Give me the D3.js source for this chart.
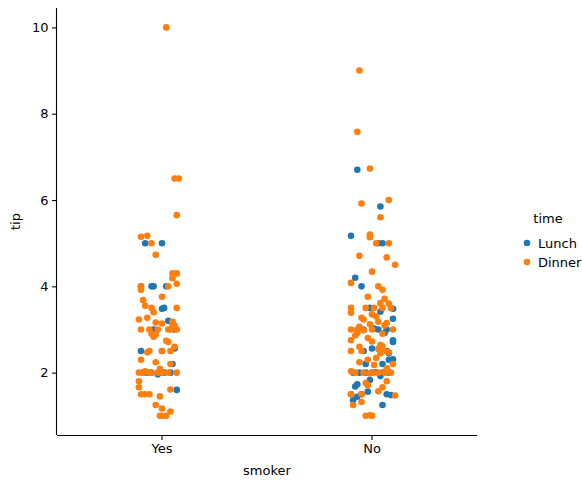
<!DOCTYPE html>
<html><head><meta charset="utf-8">
<script src="https://cdn.jsdelivr.net/npm/d3@7"></script>
<style>body{margin:0;background:#fff}text{font-family:"DejaVu Sans",sans-serif}</style>
</head><body><svg id="c" width="582" height="489"></svg>
<script>
const categories = ["Yes","No"];
const hues = ["Lunch","Dinner"];
const colors = ["#1f77b4","#ff7f0e"];
const yTicks = [2,4,6,8,10];
// [tip, jitter]
const yesLunch = [[5.0,-0.08],[5.0,0.0],[4.0,-0.1],[4.0,-0.04],[4.0,0.02],[3.5,0.01],[3.2,0.03],[3.0,0.06],[2.5,-0.1],[2.5,0.0],[2.56,0.06],[2.2,0.05],[2.0,-0.07],[2.0,-0.05],[2.0,0.04],[2.0,0.01],[1.96,-0.02],[1.6,0.07],[2.0,-0.09],[3.0,-0.04],[2.0,0.0],[4.0,-0.05],[3.48,0.0]];
const yesDinner = [[10,0.02],[6.5,0.06],[6.5,0.08],[5.65,0.07],[5.15,-0.1],[5.17,-0.07],[5.0,-0.05],[4.73,-0.03],[4.3,0.05],[4.3,0.07],[4.06,0.07],[4.0,-0.1],[4.0,0.03],[3.76,0.0],[3.68,-0.09],[3.55,-0.08],[3.5,0.07],[3.4,-0.04],[3.27,-0.07],[3.23,-0.11],[3.16,-0.03],[3.11,0.05],[3.09,0.06],[3.0,-0.1],[3.0,-0.06],[3.0,-0.02],[3.0,0.03],[3.0,0.07],[2.9,-0.05],[2.88,-0.03],[2.6,0.06],[2.5,-0.06],[2.5,0.0],[2.24,-0.03],[2.2,0.04],[2.09,-0.01],[2.03,-0.08],[2.0,-0.11],[2.0,-0.09],[2.0,-0.05],[2.0,-0.02],[2.0,0.0],[2.0,0.03],[2.0,0.07],[1.8,-0.11],[1.66,-0.11],[1.5,-0.1],[1.5,-0.08],[1.5,-0.06],[1.45,-0.01],[1.17,0.0],[1.1,0.04],[1.0,-0.01],[1.0,0.0],[1.0,0.02],[1.61,0.04],[2.3,-0.1],[2.5,0.04],[3.0,0.04],[3.5,-0.05],[4.19,0.05],[3.14,0.0],[2.0,-0.06],[1.25,-0.03],[3.18,0.05],[2.74,0.02],[2.83,-0.04],[3.92,-0.1],[2.71,0.03],[2.47,-0.07]];
const noLunch = [[6.7,-0.07],[5.85,0.04],[5.17,-0.1],[5.0,0.03],[5.0,0.05],[4.2,-0.08],[4.0,-0.05],[3.5,-0.01],[3.48,0.1],[3.41,0.04],[3.25,0.1],[3.0,-0.04],[3.0,0.03],[3.0,0.07],[2.92,0.06],[2.75,0.1],[2.71,0.1],[2.56,0.0],[2.5,0.07],[2.3,0.08],[2.31,0.1],[2.2,-0.03],[2.0,-0.09],[2.0,-0.06],[2.0,-0.03],[2.0,0.0],[2.0,0.05],[2.0,0.08],[1.92,0.04],[1.83,-0.01],[1.73,-0.07],[1.68,-0.08],[1.5,-0.1],[1.5,-0.05],[1.5,0.07],[1.48,0.09],[1.44,-0.07],[1.36,-0.09],[1.25,0.05],[2.2,0.05],[2.5,-0.04],[1.56,-0.02],[2.01,0.02],[2.45,0.08],[3.02,0.01]];
const noDinner = [[9.0,-0.06],[7.58,-0.07],[6.73,-0.01],[6.0,0.08],[5.92,-0.05],[5.6,0.04],[5.2,-0.01],[5.14,-0.01],[5.0,0.02],[5.0,0.08],[4.71,-0.06],[4.5,0.11],[4.34,0.0],[4.08,-0.1],[3.92,0.05],[3.76,-0.02],[3.71,0.06],[3.6,0.08],[3.61,0.04],[3.5,-0.1],[3.5,-0.03],[3.5,0.01],[3.5,0.05],[3.39,-0.1],[3.35,0.0],[3.27,-0.05],[3.23,-0.04],[3.18,0.03],[3.12,-0.01],[3.09,0.06],[3.0,-0.1],[3.0,-0.07],[3.0,0.0],[3.0,0.1],[2.98,-0.04],[2.9,0.05],[2.8,-0.02],[2.72,0.0],[2.64,0.04],[2.6,-0.06],[2.55,0.03],[2.5,-0.1],[2.5,-0.05],[2.5,0.06],[2.45,0.04],[2.34,0.02],[2.3,-0.02],[2.24,-0.06],[2.18,0.01],[2.1,0.07],[2.03,-0.1],[2.0,-0.08],[2.0,-0.04],[2.0,0.0],[2.0,0.03],[2.0,0.06],[2.0,0.09],[1.98,-0.01],[1.76,-0.03],[1.71,-0.02],[1.66,0.05],[1.57,0.03],[1.5,-0.05],[1.5,-0.1],[1.47,0.11],[1.32,-0.05],[1.25,-0.09],[1.01,-0.01],[1.0,-0.03],[1.0,0.0],[3.3,0.02],[3.06,-0.06],[2.47,0.08],[4.0,0.03],[3.5,0.09],[2.61,0.05],[2.86,-0.08],[2.2,0.1],[1.8,0.07],[2.75,-0.1],[3.15,0.07],[4.67,0.07],[2.92,-0.07]];
const series = [
  {cat:"Yes",hue:0,pts:yesLunch},{cat:"No",hue:0,pts:noLunch},
  {cat:"Yes",hue:1,pts:yesDinner},{cat:"No",hue:1,pts:noDinner}];

const svg = d3.select("#c");
const L=57,R=477,T=8,B=435;
const x = d3.scaleBand().domain(categories).range([L,R]);
const y = d3.scaleLinear().domain([0.555,10.45]).range([B,T]);
const bw = x.bandwidth();

const gx = svg.append("g").attr("transform",`translate(0,${B})`).call(d3.axisBottom(x).tickSize(4.9).tickPadding(3.5));
const gy = svg.append("g").attr("transform",`translate(${L},0)`).call(d3.axisLeft(y).tickValues(yTicks).tickSize(4.9).tickPadding(3.5));
[gx,gy].forEach(g=>{g.selectAll("text").attr("font-size",13).attr("fill","#000").attr("font-family","DejaVu Sans");g.selectAll("line,path").attr("stroke","#000").attr("stroke-width",1.1);});
gx.select(".domain").attr("d",`M${L},0.5H${R}`);
gy.select(".domain").attr("d",`M-0.5,${B}V${T}`);

series.forEach(s=>{
  svg.append("g").selectAll("circle").data(s.pts).join("circle")
    .attr("cx",d=>x(s.cat)+bw/2+d[1]*bw)
    .attr("cy",d=>y(d[0]))
    .attr("r",3.3).attr("fill",colors[s.hue]);
});

svg.append("text").attr("x",(L+R)/2).attr("y",475).attr("text-anchor","middle").attr("font-size",13).text("smoker");
svg.append("text").attr("transform",`translate(20,${(T+B)/2}) rotate(-90)`).attr("text-anchor","middle").attr("font-size",13).text("tip");

const lg = svg.append("g");
lg.append("text").attr("x",548).attr("y",223).attr("text-anchor","middle").attr("font-size",13).text("time");
hues.forEach((h,i)=>{
  lg.append("circle").attr("cx",527).attr("cy",243+i*19).attr("r",3.3).attr("fill",colors[i]);
  lg.append("text").attr("x",538).attr("y",248+i*19).attr("font-size",13).text(h);
});
</script></body></html>
